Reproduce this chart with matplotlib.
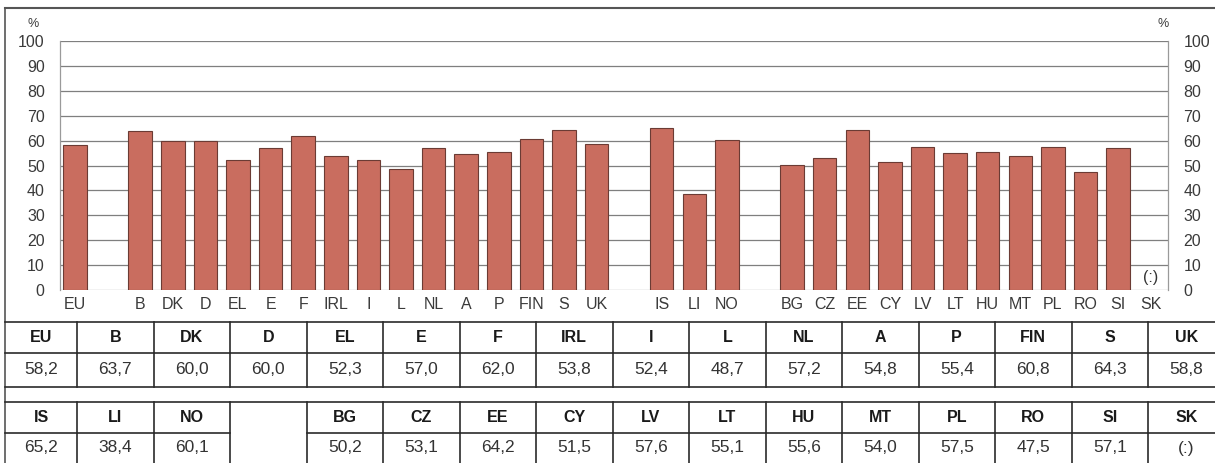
import numpy as np
import matplotlib.pyplot as plt
from matplotlib.lines import Line2D

plt.rcParams['font.family'] = ['Liberation Sans', 'DejaVu Sans']

# bar groups (None = not available)
eu_codes = ['EU']
eu_vals = [58.2]
eu15_codes = ['B', 'DK', 'D', 'EL', 'E', 'F', 'IRL', 'I', 'L', 'NL', 'A', 'P', 'FIN', 'S', 'UK']
eu15_vals = [63.7, 60.0, 60.0, 52.3, 57.0, 62.0, 53.8, 52.4, 48.7, 57.2, 54.8, 55.4, 60.8, 64.3, 58.8]
efta_codes = ['IS', 'LI', 'NO']
efta_vals = [65.2, 38.4, 60.1]
acc_codes = ['BG', 'CZ', 'EE', 'CY', 'LV', 'LT', 'HU', 'MT', 'PL', 'RO', 'SI', 'SK']
acc_vals = [50.2, 53.1, 64.2, 51.5, 57.6, 55.1, 55.6, 54.0, 57.5, 47.5, 57.1, None]

W, H = 1215, 463
fig = plt.figure(figsize=(W / 100, H / 100), dpi=100)
fig.patch.set_facecolor('white')

def fx(px):
    return px / W

def fy(py):
    return 1 - py / H

# positions: one empty slot between groups
groups = [(eu_codes, eu_vals), (eu15_codes, eu15_vals), (efta_codes, efta_vals), (acc_codes, acc_vals)]
codes, vals, pos = [], [], []
p = 0
for gc, gv in groups:
    for c, v in zip(gc, gv):
        codes.append(c)
        vals.append(v)
        pos.append(p)
        p += 1
    p += 1

ax_l, ax_r, ax_t, ax_b = 60, 1168, 41, 290
ax = fig.add_axes([fx(ax_l), fy(ax_b), fx(ax_r - ax_l), (ax_b - ax_t) / H])
ax.set_xlim(-0.46, 33.53)
ax.set_ylim(0, 100)
for y in range(10, 101, 10):
    ax.axhline(y, color='#7f7f7f', lw=0.9, zorder=1)
for i, v in zip(pos, vals):
    if v is None:
        ax.text(i, 2, '(:)', ha='center', va='bottom', fontsize=11.5, color='#333333')
    else:
        ax.bar(i, v, width=0.72, color='#c96d5f', edgecolor='#6b3b34', lw=0.8, zorder=2)
for s in ['top', 'bottom']:
    ax.spines[s].set_visible(False)
for s in ['left', 'right']:
    ax.spines[s].set_color('#9a9a9a')
    ax.spines[s].set_linewidth(0.9)
ax.axhline(0, color='#9a9a9a', lw=0.9, zorder=1)
ax.set_yticks(range(0, 101, 10))
ax.tick_params(axis='y', length=0, labelsize=11.5, colors='#3a3a3a', pad=11,
               labelleft=True, labelright=True)
ax.set_xticks(pos)
ax.set_xticklabels(codes, fontsize=11.5, color='#3a3a3a')
ax.tick_params(axis='x', length=0, pad=5)
fig.text(fx(28), fy(24), '%', fontsize=9, color='#3a3a3a', ha='left', va='center')
fig.text(fx(1158), fy(24), '%', fontsize=9, color='#3a3a3a', ha='left', va='center')

# frame
line_c = '#2b2b2b'
def hline(y, x0, x1, lw=1.2, c=line_c):
    fig.add_artist(Line2D([fx(x0), fx(x1)], [fy(y), fy(y)], color=c, lw=lw))

def vline(x, y0, y1, lw=1.2, c=line_c):
    fig.add_artist(Line2D([fx(x), fx(x)], [fy(y0), fy(y1)], color=c, lw=lw))

hline(8, 5, W, lw=1.5, c='#555555')
vline(5, 8, H, lw=1.2, c='#555555')

# table
row1_codes = eu_codes + eu15_codes
row1_vals = eu_vals + eu15_vals
row2_codes = efta_codes + [''] + acc_codes
row2_vals = efta_vals + [None] + acc_vals

edges = [5] + [77 + 76.5 * k for k in range(16)]
edges.append(W + 10)

def fmt(v):
    return '(:)' if v is None else f'{v:.1f}'.replace('.', ',')

rows = [(row1_codes, row1_vals, 322, 353, 387), (row2_codes, row2_vals, 402, 433, 475)]
for rc, rv, top, mid, bot in rows:
    hline(top, 5, W)
    hline(bot, 5, W)
    for k, c in enumerate(rc):
        x0, x1 = edges[k], edges[k + 1]
        if k > 0:
            vline(x0, top, bot)
        if c == '':
            continue
        hline(mid, x0, x1)
        cx = (x0 + x1) / 2
        fig.text(fx(cx), fy((top + mid) / 2), c, ha='center', va='center',
                 fontsize=11.5, fontweight='bold', color='#1a1a1a')
        fig.text(fx(cx), fy((mid + min(bot, H)) / 2), fmt(rv[k]),
                 ha='center', va='center', fontsize=12.5, color='#333333')

fig.savefig('out.png', dpi=100)
